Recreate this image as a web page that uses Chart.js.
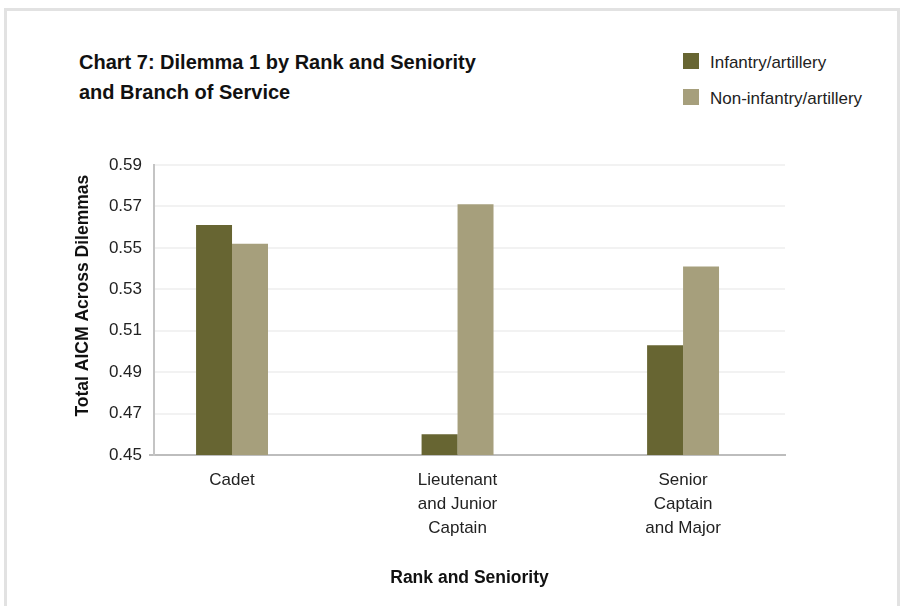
<!DOCTYPE html>
<html lang="en">
<head>
  <meta charset="UTF-8">
  <title>Chart 7: Dilemma 1 by Rank and Seniority and Branch of Service</title>
  <script src="https://cdn.jsdelivr.net/npm/chart.js"></script>
  <style>
    html, body {
      margin: 0;
      padding: 0;
      background: #fff;
    }
    body {
      width: 901px;
      height: 606px;
      position: relative;
      overflow: hidden;
      font-family: "Liberation Sans", Arial, sans-serif;
    }
    .frame {
      position: absolute;
      left: 4px;
      top: 8px;
      width: 890px;
      height: 620px;
      border: 3px solid #e2e2e2;
    }
    .title {
      position: absolute;
      left: 79px;
      top: 47px;
      font-size: 20px;
      font-weight: bold;
      line-height: 30px;
      color: #111;
    }
    .legend {
      position: absolute;
      left: 683px;
      top: 53px;
      font-size: 17px;
      line-height: 20px;
      color: #222;
    }
    .legend div {
      height: 36px;
      display: flex;
      align-items: flex-start;
    }
    .legend span.box {
      display: inline-block;
      width: 16px;
      height: 16px;
      margin: 0 11px 0 0;
    }
    #chartWrap {
      position: absolute;
      left: 0;
      top: 0;
      width: 901px;
      height: 606px;
    }
  </style>
</head>
<body>
  <div class="frame"></div>
  <div class="title">Chart 7: Dilemma 1 by Rank and Seniority<br>and Branch of Service</div>
  <div class="legend" id="legend"></div>
  <div id="chartWrap">
    <canvas id="rankChart" width="901" height="606"></canvas>
  </div>

  <script>
    const categories = [
      ['Cadet'],
      ['Lieutenant', 'and Junior', 'Captain'],
      ['Senior', 'Captain', 'and Major']
    ];
    const seriesNames = ['Infantry/artillery', 'Non-infantry/artillery'];
    const infantry = [0.561, 0.460, 0.503];
    const nonInfantry = [0.552, 0.571, 0.541];
    const yTicks = [0.45, 0.47, 0.49, 0.51, 0.53, 0.55, 0.57, 0.59];
    const colors = ['#676532', '#a69f7c'];

    // legend drawn as plain html next to the title
    const legendEl = document.getElementById('legend');
    seriesNames.forEach((name, i) => {
      const row = document.createElement('div');
      row.innerHTML = '<span class="box" style="background:' + colors[i] + '"></span>' + name;
      legendEl.appendChild(row);
    });

    const toPoints = arr => arr.map((v, i) => ({ x: i, y: v }));

    Chart.defaults.font.family = '"Liberation Sans", Arial, sans-serif';
    Chart.defaults.font.size = 17;
    Chart.defaults.color = '#222';

    const ctx = document.getElementById('rankChart').getContext('2d');
    const chart = new Chart(ctx, {
      type: 'bar',
      data: {
        datasets: [
          { label: seriesNames[0], data: toPoints(infantry), backgroundColor: colors[0] },
          { label: seriesNames[1], data: toPoints(nonInfantry), backgroundColor: colors[1] }
        ]
      },
      options: {
        responsive: false,
        animation: false,
        categoryPercentage: 0.319,
        barPercentage: 1,
        layout: {
          padding: { left: 66, top: 165, right: 116, bottom: 17 }
        },
        plugins: {
          legend: { display: false },
          tooltip: { enabled: false }
        },
        scales: {
          x: {
            // linear so the groups can sit off-centre in the plot
            type: 'linear',
            offset: false,
            min: -0.346,
            max: 2.452,
            afterBuildTicks: axis => {
              axis.ticks = categories.map((c, i) => ({ value: i }));
            },
            afterFit: axis => { axis.height = 134; },
            ticks: {
              padding: 13,
              maxRotation: 0,
              autoSkip: false,
              font: { size: 17, lineHeight: 1.41 },
              callback: v => categories[v]
            },
            grid: { color: 'rgba(0,0,0,0)', drawTicks: false },
            border: { color: '#bdbdbd', width: 2 },
            title: {
              display: true,
              text: 'Rank and Seniority',
              font: { size: 17.5, weight: 'bold', lineHeight: 1.2 },
              color: '#111',
              padding: { top: 4, bottom: 0 }
            }
          },
          y: {
            min: 0.45,
            max: 0.59,
            afterBuildTicks: axis => {
              axis.ticks = yTicks.map(v => ({ value: v }));
            },
            afterFit: axis => { axis.width = 154 - 66; },
            ticks: {
              padding: 7,
              callback: v => v.toFixed(2)
            },
            grid: {
              color: '#f2f2f2',
              lineWidth: 2,
              tickLength: 5,
              tickColor: c => c.index === 0 ? '#bdbdbd' : 'rgba(0,0,0,0)'
            },
            border: { color: '#c4c4c4', width: 2 },
            title: {
              display: true,
              text: 'Total AICM Across Dilemmas  ',
              align: 'end',
              font: { size: 17.5, weight: 'bold', lineHeight: 1.2 },
              color: '#111',
              padding: { top: 7, bottom: 0 }
            }
          }
        }
      }
    });
  </script>
</body>
</html>
